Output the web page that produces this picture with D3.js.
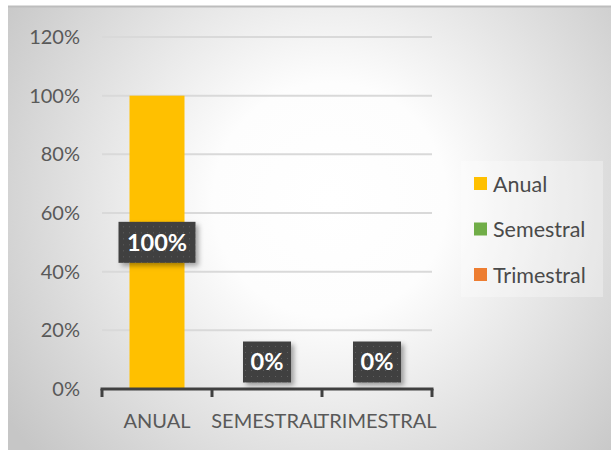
<!DOCTYPE html>
<html>
<head>
<meta charset="utf-8">
<script src="https://cdn.jsdelivr.net/npm/d3@7"></script>
<style>
  html, body { margin: 0; padding: 0; background: #ffffff; }
  svg { display: block; }
  text { font-family: Lato, "Open Sans", sans-serif; }
</style>
</head>
<body>
<svg id="chart" width="611" height="450"></svg>
<script>
// Share of plans by billing period
const categories = ["ANUAL", "SEMESTRAL", "TRIMESTRAL"];
const seriesNames = ["Anual", "Semestral", "Trimestral"];
const seriesColors = ["#ffc000", "#70ad47", "#ed7d31"];
const values = [1.0, 0.0, 0.0];
const yTicks = [0, 0.2, 0.4, 0.6, 0.8, 1.0, 1.2];

const svg = d3.select("#chart");
const defs = svg.append("defs");

// background: soft radial gray
const grad = defs.append("radialGradient")
  .attr("id", "bg").attr("gradientUnits", "userSpaceOnUse")
  .attr("cx", 330).attr("cy", 200).attr("r", 390);
grad.append("stop").attr("offset", "0%").attr("stop-color", "#ffffff");
grad.append("stop").attr("offset", "30%").attr("stop-color", "#fdfdfd");
grad.append("stop").attr("offset", "100%").attr("stop-color", "#c6c6c6");

// dotted fill for the value labels
const pat = defs.append("pattern").attr("id", "dots")
  .attr("patternUnits", "userSpaceOnUse").attr("width", 6).attr("height", 6);
pat.append("rect").attr("width", 6).attr("height", 6).attr("fill", "#3f3f3f");
pat.append("rect").attr("x", 2).attr("y", 2).attr("width", 1).attr("height", 1).attr("fill", "#5e5e5e");

const shadow = defs.append("filter").attr("id", "shadow")
  .attr("x", "-20%").attr("y", "-20%").attr("width", "150%").attr("height", "160%");
shadow.append("feDropShadow").attr("dx", 3).attr("dy", 3).attr("stdDeviation", 2.5)
  .attr("flood-color", "#000").attr("flood-opacity", 0.35);

svg.append("rect").attr("x", 8).attr("y", 6).attr("width", 603).attr("height", 444)
  .attr("fill", "url(#bg)");
svg.append("line").attr("x1", 8).attr("x2", 611).attr("y1", 6.5).attr("y2", 6.5)
  .attr("stroke", "#bdbdbd").attr("stroke-width", 2);

const plot = { left: 102, right: 432, top: 37, bottom: 389 };

const x = d3.scaleBand().domain(categories).range([plot.left, plot.right]).paddingInner(0).paddingOuter(0);
const y = d3.scaleLinear().domain([0, 1.2]).range([plot.bottom, plot.top]);

// gridlines
svg.append("g").selectAll("line").data(yTicks.filter(d => d > 0)).join("line")
  .attr("x1", plot.left).attr("x2", plot.right)
  .attr("y1", d => y(d)).attr("y2", d => y(d))
  .attr("stroke", "#d9d9d9").attr("stroke-width", 2);

// y axis labels
const yAxis = d3.axisLeft(y).tickValues(yTicks).tickFormat(d3.format(".0%")).tickSize(0).tickPadding(0);
const gy = svg.append("g").attr("transform", `translate(${plot.left - 22},0)`).call(yAxis);
gy.select(".domain").remove();
gy.selectAll("text").attr("font-size", 20).attr("fill", "#595959")
  .style("font-family", "Lato, 'Open Sans', sans-serif");

// bars
const bw = 55;
svg.append("g").selectAll("rect").data(values).join("rect")
  .attr("x", (d, i) => x(categories[i]) + x.bandwidth() / 2 - bw / 2)
  .attr("width", bw)
  .attr("y", d => y(d))
  .attr("height", d => y(0) - y(d))
  .attr("fill", (d, i) => seriesColors[i]);

// x axis
const xAxis = d3.axisBottom(x).tickSize(0).tickPadding(0);
const gx = svg.append("g").attr("transform", `translate(0,${plot.bottom})`).call(xAxis);
gx.select(".domain").remove();
gx.selectAll(".tick text").attr("dy", 0).attr("y", 39).attr("font-size", 20).attr("fill", "#595959")
  .style("font-family", "Lato, 'Open Sans', sans-serif");
svg.append("line").attr("x1", plot.left - 1.5).attr("x2", plot.right + 1.5)
  .attr("y1", plot.bottom).attr("y2", plot.bottom)
  .attr("stroke", "#404040").attr("stroke-width", 3);
const edges = categories.map(c => x(c)).concat([plot.right]);
svg.append("g").selectAll("line").data(edges).join("line")
  .attr("x1", d => d).attr("x2", d => d)
  .attr("y1", plot.bottom).attr("y2", plot.bottom + 8)
  .attr("stroke", "#404040").attr("stroke-width", 3);

// value labels
const fmt = d3.format(".0%");
const labels = svg.append("g").selectAll("g").data(values).join("g")
  .attr("transform", (d, i) => {
    const cx = x(categories[i]) + x.bandwidth() / 2;
    const cy = d > 0 ? y(d / 2) : y(0) - 27;
    return `translate(${cx},${cy})`;
  });
labels.append("rect")
  .attr("x", d => -(d > 0 ? 77 : 48) / 2).attr("y", -20.5)
  .attr("width", d => d > 0 ? 77 : 48).attr("height", 41)
  .attr("fill", "url(#dots)").attr("filter", "url(#shadow)");
labels.append("text").attr("text-anchor", "middle").attr("dy", "0.36em")
  .attr("font-size", 23.5).attr("font-weight", "bold").attr("fill", "#ffffff")
  .text(d => fmt(d));

// legend
const lg = svg.append("g");
lg.append("rect").attr("x", 461).attr("y", 161).attr("width", 142).attr("height", 136)
  .attr("fill", "#ffffff").attr("opacity", 0.3);
const items = lg.selectAll("g.item").data(seriesNames).join("g").attr("class", "item")
  .attr("transform", (d, i) => `translate(474,${184 + i * 45.5})`);
items.append("rect").attr("x", 0).attr("y", -7).attr("width", 13).attr("height", 13)
  .attr("fill", (d, i) => seriesColors[i]);
items.append("text").attr("x", 19).attr("dy", "0.35em").attr("font-size", 21.5)
  .attr("fill", "#4a4a4a").text(d => d);
</script>
</body>
</html>
